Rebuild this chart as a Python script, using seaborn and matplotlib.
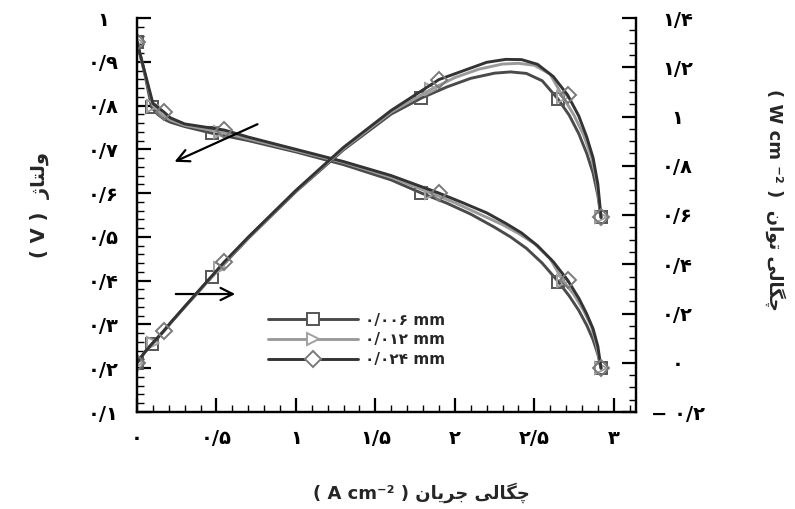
import matplotlib
matplotlib.use("Agg")
import matplotlib.pyplot as plt
import seaborn as sns
import pandas as pd
from matplotlib.ticker import MultipleLocator, FixedLocator, FixedFormatter
from matplotlib.lines import Line2D

# ---------------- data ----------------
# series 0.006 mm (square)
I_a = [0.0, 0.05, 0.092, 0.13, 0.17, 0.21, 0.30, 0.47, 0.70, 1.00, 1.30, 1.60, 1.79, 1.95, 2.10, 2.25, 2.35, 2.45, 2.55, 2.65, 2.72, 2.78, 2.83, 2.87, 2.90, 2.92]
V_a = [0.946, 0.870, 0.796, 0.780, 0.769, 0.762, 0.752, 0.737, 0.720, 0.694, 0.665, 0.630, 0.600, 0.577, 0.552, 0.522, 0.500, 0.474, 0.440, 0.398, 0.365, 0.332, 0.298, 0.265, 0.232, 0.200]
P_a = [0.0, 0.043, 0.075, 0.100, 0.130, 0.160, 0.226, 0.348, 0.505, 0.695, 0.865, 1.010, 1.075, 1.120, 1.155, 1.176, 1.181, 1.175, 1.145, 1.070, 1.005, 0.930, 0.850, 0.770, 0.680, 0.590]
M_a = [0.0, 0.092, 0.47, 1.79, 2.65, 2.92]

# series 0.012 mm (triangle)
I_b = [0.0, 0.05, 0.10, 0.16, 0.21, 0.30, 0.52, 0.70, 1.00, 1.30, 1.60, 1.85, 2.00, 2.15, 2.30, 2.40, 2.50, 2.60, 2.68, 2.75, 2.81, 2.86, 2.89, 2.92]
V_b = [0.946, 0.872, 0.800, 0.778, 0.767, 0.755, 0.740, 0.724, 0.697, 0.670, 0.636, 0.600, 0.578, 0.553, 0.528, 0.508, 0.485, 0.450, 0.400, 0.368, 0.332, 0.295, 0.255, 0.200]
P_b = [0.0, 0.044, 0.080, 0.125, 0.160, 0.227, 0.385, 0.508, 0.698, 0.870, 1.018, 1.110, 1.158, 1.192, 1.213, 1.216, 1.208, 1.172, 1.080, 1.005, 0.925, 0.835, 0.745, 0.590]
M_b = [0.0, 0.10, 0.52, 1.85, 2.68, 2.92]

# series 0.024 mm (diamond)
I_c = [0.0, 0.05, 0.10, 0.17, 0.21, 0.30, 0.55, 0.70, 1.00, 1.30, 1.60, 1.90, 2.05, 2.20, 2.32, 2.42, 2.52, 2.62, 2.71, 2.78, 2.83, 2.87, 2.90, 2.92]
V_c = [0.946, 0.875, 0.805, 0.785, 0.772, 0.758, 0.744, 0.728, 0.700, 0.672, 0.640, 0.600, 0.578, 0.555, 0.531, 0.509, 0.480, 0.443, 0.401, 0.360, 0.324, 0.290, 0.250, 0.200]
P_c = [0.0, 0.044, 0.081, 0.130, 0.162, 0.228, 0.410, 0.510, 0.700, 0.875, 1.025, 1.150, 1.185, 1.220, 1.232, 1.231, 1.212, 1.162, 1.087, 1.002, 0.917, 0.832, 0.725, 0.590]
M_c = [0.0, 0.17, 0.55, 1.90, 2.71, 2.92]

series_labels = ["۰/۰۰۶ mm", "۰/۰۱۲ mm", "۰/۰۲۴ mm"]

x_ticks = [0, 0.5, 1, 1.5, 2, 2.5, 3]
x_ticklabels = ["۰", "۰/۵", "۱", "۱/۵", "۲", "۲/۵", "۳"]
yl_ticks = [0.1, 0.2, 0.3, 0.4, 0.5, 0.6, 0.7, 0.8, 0.9, 1.0]
yl_ticklabels = ["۰/۱", "۰/۲", "۰/۳", "۰/۴", "۰/۵", "۰/۶", "۰/۷", "۰/۸", "۰/۹", "۱"]
yr_ticks = [-0.2, 0, 0.2, 0.4, 0.6, 0.8, 1.0, 1.2, 1.4]
yr_ticklabels = ["− ۰/۲", "۰", "۰/۲", "۰/۴", "۰/۶", "۰/۸", "۱", "۱/۲", "۱/۴"]

# Persian words in visual (left-to-right) order using presentation forms
W_chegali = "\uFBFD\uFEDF\uFE8E\uFB95\uFB7C"   # چگالی
W_jarayan = "\uFEE5\uFE8E\uFBFE\uFEAE\uFE9F"   # جریان
W_tavan = "\uFEE5\uFE8D\uFEEE\uFE97"           # توان
W_voltaj = "\uFB8A\uFE8E\uFE98\uFEDF\uFEED"    # ولتاژ

xlabel = "( A cm\u207b\u00b2 ) " + W_jarayan + " " + W_chegali
ylabel_left = "( V )  " + W_voltaj
ylabel_right = "( W cm \u207b\u00b2 )  " + W_tavan + " " + W_chegali

# ---------------- styling ----------------
sns.set_theme(style="ticks")
plt.rcParams['font.family'] = ['DejaVu Sans']
plt.rcParams['font.weight'] = 'bold'

fig = plt.figure(figsize=(7.95, 5.09), dpi=100)
fig.patch.set_facecolor("white")
ax = fig.add_axes([137/795, 1 - 412/509, (636 - 137)/795, (412 - 18)/509])
ax.set_facecolor("white")
ax2 = ax.twinx()

styles = [
    dict(I=I_a, V=V_a, P=P_a, M=M_a, color="#4a4a4a", mec="#555555", marker="s", ms=8),
    dict(I=I_b, V=V_b, P=P_b, M=M_b, color="#9a9a9a", mec="#a0a0a0", marker=">", ms=9),
    dict(I=I_c, V=V_c, P=P_c, M=M_c, color="#333333", mec="#7a7a7a", marker="D", ms=8),
]

handles = []
for st, lab in zip(styles, series_labels):
    df = pd.DataFrame({"I": st["I"], "V": st["V"], "P": st["P"]})
    idx = [st["I"].index(m) for m in st["M"]]
    kw = dict(color=st["color"], lw=2.1, sort=False, estimator=None,
              marker=st["marker"], markevery=idx, markersize=st["ms"],
              markerfacecolor="none", markeredgecolor=st["mec"], markeredgewidth=1.4)
    sns.lineplot(data=df, x="I", y="V", ax=ax, **kw)
    sns.lineplot(data=df, x="I", y="P", ax=ax2, **kw)
    handles.append(Line2D([], [], color=st["color"], lw=2.1, marker=st["marker"],
                          markersize=st["ms"], markerfacecolor="white",
                          markeredgecolor=st["mec"], markeredgewidth=1.4))

ax.set_xlim(0, 3.14)
ax.set_ylim(0.1, 1.0)
ax2.set_ylim(-0.2, 1.4)

ax.xaxis.set_major_locator(FixedLocator(x_ticks))
ax.xaxis.set_major_formatter(FixedFormatter(x_ticklabels))
ax.xaxis.set_minor_locator(MultipleLocator(0.1))
ax.yaxis.set_major_locator(FixedLocator(yl_ticks))
ax.yaxis.set_major_formatter(FixedFormatter(yl_ticklabels))
ax.yaxis.set_minor_locator(MultipleLocator(0.02))
ax2.yaxis.set_major_locator(FixedLocator(yr_ticks))
ax2.yaxis.set_major_formatter(FixedFormatter(yr_ticklabels))
ax2.yaxis.set_minor_locator(MultipleLocator(0.05))

ax.set_xlabel("")
ax.set_ylabel("")
ax2.set_ylabel("")

for a in (ax, ax2):
    a.spines["top"].set_visible(False)
    for s in ("left", "right", "bottom"):
        a.spines[s].set_linewidth(1.6)
        a.spines[s].set_color("black")

ax.tick_params(axis="both", which="major", direction="in", length=10, width=1.6,
               colors="black", labelsize=14)
ax.tick_params(axis="both", which="minor", direction="in", length=5, width=1.0, colors="black")
ax.tick_params(axis="y", which="major", pad=24, right=False)
ax.tick_params(axis="y", which="minor", right=False)
ax.tick_params(axis="x", which="major", pad=12, top=False)
ax.tick_params(axis="x", which="minor", top=False)
ax2.tick_params(axis="y", which="major", direction="in", length=10, width=1.6,
                labelsize=14, pad=30, colors="black")
ax2.tick_params(axis="y", which="minor", direction="in", length=5, width=1.0, colors="black")

for t in ax.get_yticklabels():
    t.set_horizontalalignment("center")
    t.set_fontweight("bold")
for t in ax2.get_yticklabels():
    t.set_horizontalalignment("center")
    t.set_fontweight("bold")
for t in ax.get_xticklabels():
    t.set_fontweight("bold")

# arrows
arrow_kw = dict(arrowstyle="->", lw=1.6, color="black", mutation_scale=22)
ax.annotate("", xy=(0.220, 0.669), xytext=(0.774, 0.760), arrowprops=arrow_kw)
ax.annotate("", xy=(0.6355, 0.3695), xytext=(0.2265, 0.3695), arrowprops=arrow_kw)

leg = ax.legend(handles, series_labels, loc="center left", bbox_to_anchor=(0.2625, 0.183),
                frameon=False, handlelength=5.9, handletextpad=0.45, labelspacing=0.3,
                borderpad=0, borderaxespad=0, prop=dict(size=11, weight="bold"))

fig.text(421/795, 1 - 493/509, xlabel, ha="center", va="center", fontsize=13, fontweight="bold")
fig.text(40/795, 1 - 205/509, ylabel_left, ha="center", va="center", rotation=90,
         fontsize=14, fontweight="bold")
fig.text(775/795, 1 - 200/509, ylabel_right, ha="center", va="center", rotation=270,
         fontsize=13, fontweight="bold")

fig.savefig("out.png", dpi=100, facecolor="white")
